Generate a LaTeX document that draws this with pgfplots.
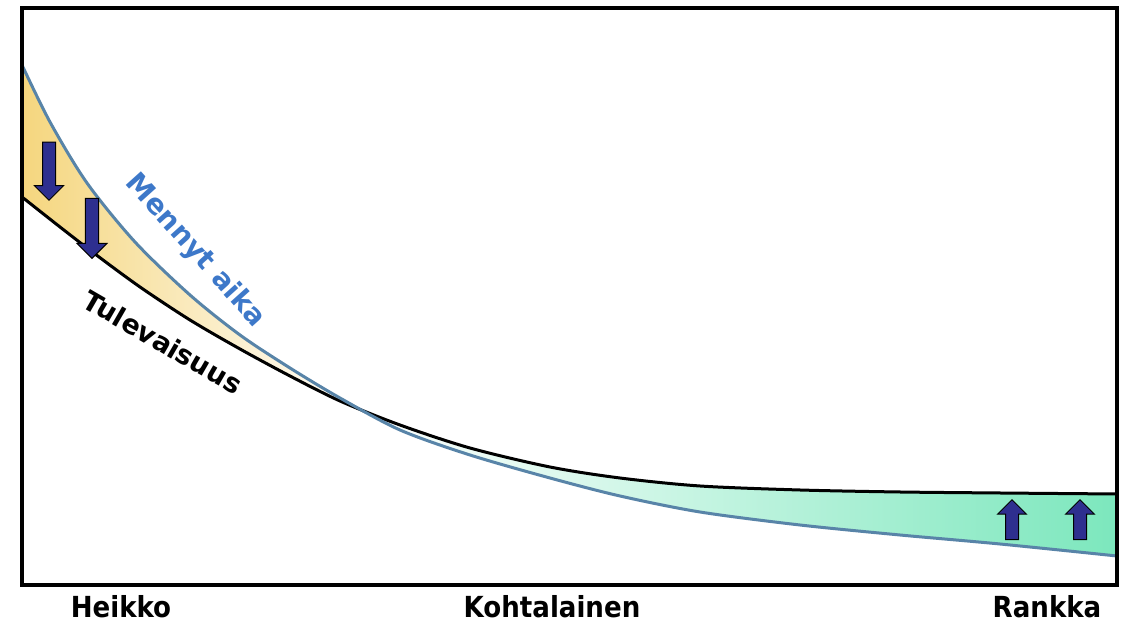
\documentclass[border=0pt]{standalone}
\usepackage{pgfplots}
\pgfplotsset{compat=1.18}
\usetikzlibrary{shapes.arrows}
\usepackage{fontspec}
\setmainfont{DejaVu Sans}
\newfontfamily\labfont{DejaVu Sans Condensed}
\definecolor{lineblue}{HTML}{5884A8}
\definecolor{textblue}{HTML}{3D78C9}
\definecolor{fillyellow}{HTML}{F5D67E}
\definecolor{fillgreen}{HTML}{7CE7BD}
\definecolor{arrownavy}{HTML}{2E2F8F}
\tikzset{arrowst/.style={single arrow, draw=black, line width=0.5pt, fill=arrownavy,
    inner xsep=0pt, inner ysep=3pt, single arrow head extend=4pt,
    single arrow tip angle=90, anchor=center}}
\begin{document}
\begin{tikzpicture}
\useasboundingbox (0,0) rectangle (563.5pt,312.5pt);
\begin{axis}[
  at={(11pt,20pt)}, anchor=south west,
  scale only axis, width=547.5pt, height=288.5pt,
  xmin=22, xmax=1117, ymin=40, ymax=617,
  xtick=\empty, ytick=\empty,
  axis line style={line width=1.6pt},
  axis on top,
  clip=false,
]
% left region (Mennyt above Tulevaisuus)
\addplot[draw=none, left color=fillyellow, right color=white, smooth] coordinates {
(22,560) (50,503) (87,442) (135,383) (190,330) (240,290) (290,257) (340,227)
(362.5,215)} \closedcycle;
\addplot[draw=none, fill=white, smooth] coordinates {
(22,428) (60,398) (95,371) (140,338) (190,305) (240,276) (290,249) (340,224)
(362.5,215)} \closedcycle;
% right region (Tulevaisuus above Mennyt)
\addplot[draw=none, left color=white, right color=fillgreen, smooth] coordinates {
(362.5,215) (400,200) (470,177) (550,158) (620,147) (700,139) (800,135)
(900,133) (1000,132) (1117,131)} \closedcycle;
\addplot[draw=none, fill=white, smooth] coordinates {
(362.5,215) (400,195) (470,170) (550,147) (620,129) (700,113) (800,100)
(900,90) (1000,81) (1117,69)} \closedcycle;
% curves
\addplot[black, line width=1.5pt, smooth] coordinates {
(22,428) (60,398) (95,371) (140,338) (190,305) (240,276) (290,249) (340,224)
(400,200) (470,177) (550,158) (620,147) (700,139) (800,135)
(900,133) (1000,132) (1117,131)};
\addplot[lineblue, line width=1.5pt, smooth] coordinates {
(22,560) (50,503) (87,442) (135,383) (190,330) (240,290) (290,257) (340,227)
(400,195) (470,170) (550,147) (620,129) (700,113) (800,100)
(900,90) (1000,81) (1117,69)};
\node[arrowst, minimum height=29pt, minimum width=14pt, rotate=-90] at (axis cs:49,457) {};
\node[arrowst, minimum height=30pt, minimum width=15pt, rotate=-90] at (axis cs:92,400) {};
\node[arrowst, minimum height=20pt, minimum width=13.5pt, rotate=90] at (axis cs:1012,102) {};
\node[arrowst, minimum height=20pt, minimum width=13.5pt, rotate=90] at (axis cs:1080,102) {};
\node[textblue, font=\bfseries\fontsize{14}{15}\selectfont, rotate=-48] at (axis cs:195,374) {Mennyt aika};
\node[black, font=\bfseries\fontsize{13.5}{14.5}\selectfont, rotate=-30] at (axis cs:163,283) {Tulevaisuus};
\node[font=\labfont\bfseries\fontsize{14.5}{15.5}\selectfont] at (axis cs:121,18) {Heikko};
\node[font=\labfont\bfseries\fontsize{14.5}{15.5}\selectfont] at (axis cs:552,18) {Kohtalainen};
\node[font=\labfont\bfseries\fontsize{14.5}{15.5}\selectfont] at (axis cs:1047,18) {Rankka};
\end{axis}
\end{tikzpicture}
\end{document}
